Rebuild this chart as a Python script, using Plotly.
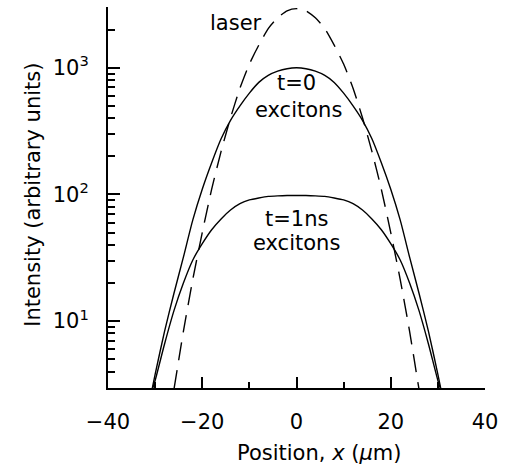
import plotly.graph_objects as go

# Position across the spot (micrometres) and intensity profiles (arbitrary units)
x_exc = [-31, -30, -28, -26, -24, -22, -20, -18, -16, -14, -12, -10, -8, -6, -4, -2,
         0, 2, 4, 6, 8, 10, 12, 14, 16, 18, 20, 22, 24, 26, 28, 30, 31]
t0_excitons = [2.5, 3.8, 8.3, 16.6, 32, 63, 110, 178, 275, 385, 501, 631, 767, 871, 940, 984,
               1000, 984, 940, 871, 767, 631, 501, 385, 275, 178, 110, 63, 32, 16.6, 8.3, 3.8, 2.5]
t1ns_excitons = [2.6, 3.4, 6.6, 12.1, 20.0, 30.4, 40.9, 52.7, 64.1, 75.3, 84.5, 90.5, 93.8, 96.5, 97.5, 98.0,
                 98.2, 98.0, 97.5, 96.5, 93.8, 90.5, 84.5, 75.3, 64.1, 52.7, 40.9, 30.4, 20.0, 12.1, 6.6, 3.4, 2.6]

x_laser = [-27, -26, -24, -22, -20, -18, -16, -14, -12, -10, -8, -6, -4, -2,
           0, 2, 4, 6, 8, 10, 12, 14, 16, 18, 20, 22, 24, 26, 27]
laser = [1.8, 2.9, 8.3, 21.4, 50, 110, 219, 403, 690, 1070, 1510, 2040, 2480, 2820,
         2930, 2820, 2480, 2040, 1510, 1070, 690, 403, 219, 110, 50, 21.4, 8.3, 2.9, 1.8]

x_major = [-40, -20, 0, 20, 40]
x_minor = [-30, -10, 10, 30]
y_major = [10, 100, 1000]
y_major_text = ["10<sup>1</sup>", "10<sup>2</sup>", "10<sup>3</sup>"]
y_minor = [3, 4, 5, 6, 7, 8, 9, 20, 30, 40, 50, 60, 70, 80, 90,
           200, 300, 400, 500, 600, 700, 800, 900, 2000, 3000]

FONT = "DejaVu Sans"
INK = "black"

fig = go.Figure()
fig.add_trace(go.Scatter(x=x_laser, y=laser, mode="lines",
                         line=dict(color=INK, width=1.4, dash="18px,10px", shape="spline", smoothing=0.6)))
fig.add_trace(go.Scatter(x=x_exc, y=t0_excitons, mode="lines",
                         line=dict(color=INK, width=1.4, shape="spline", smoothing=0.6)))
fig.add_trace(go.Scatter(x=x_exc, y=t1ns_excitons, mode="lines",
                         line=dict(color=INK, width=1.4, shape="spline", smoothing=0.6)))

labels = [
    (-12.9, 3.353, "laser"),
    (0.0, 2.879, "t=0"),
    (0.5, 2.666, "excitons"),
    (0.0, 1.81, "t=1ns"),
    (0.0, 1.613, "excitons"),
]
for lx, ly, txt in labels:
    fig.add_annotation(x=lx, y=ly, xref="x", yref="y", text=txt, showarrow=False,
                       xanchor="center", yanchor="middle",
                       font=dict(family=FONT, size=21, color=INK))

fig.add_annotation(x=0.559, y=-0.17, xref="paper", yref="paper",
                   text="Position, <i>x</i> (<i>μ</i>m)", showarrow=False,
                   xanchor="center", yanchor="middle",
                   font=dict(family=FONT, size=21, color=INK))
fig.add_annotation(x=-0.199, y=0.507, xref="paper", yref="paper",
                   text="Intensity (arbitrary units)", showarrow=False, textangle=-90,
                   xanchor="center", yanchor="middle",
                   font=dict(family=FONT, size=21, color=INK))

fig.update_layout(
    width=505, height=464,
    margin=dict(l=108, r=18, t=7, b=76),
    paper_bgcolor="white", plot_bgcolor="white",
    showlegend=False,
    font=dict(family=FONT, size=21, color=INK),
)
fig.update_xaxes(
    range=[-40, 40], showgrid=False, zeroline=False,
    showline=True, linecolor=INK, linewidth=2,
    tickmode="array", tickvals=x_major,
    ticks="inside", ticklen=11, tickwidth=1.5, tickcolor=INK,
    ticklabelstandoff=14,
    minor=dict(tickmode="array", tickvals=x_minor, ticks="inside", ticklen=6,
               tickwidth=1.5, tickcolor=INK, showgrid=False),
)
fig.update_yaxes(
    type="log", range=[0.472, 3.48], showgrid=False, zeroline=False,
    showline=True, linecolor=INK, linewidth=2,
    tickmode="array", tickvals=y_major, ticktext=y_major_text,
    ticks="inside", ticklen=12, tickwidth=1.5, tickcolor=INK,
    ticklabelstandoff=13,
    minor=dict(tickmode="array", tickvals=y_minor, ticks="inside", ticklen=7,
               tickwidth=1.5, tickcolor=INK, showgrid=False),
)

fig.write_html("out.html")
